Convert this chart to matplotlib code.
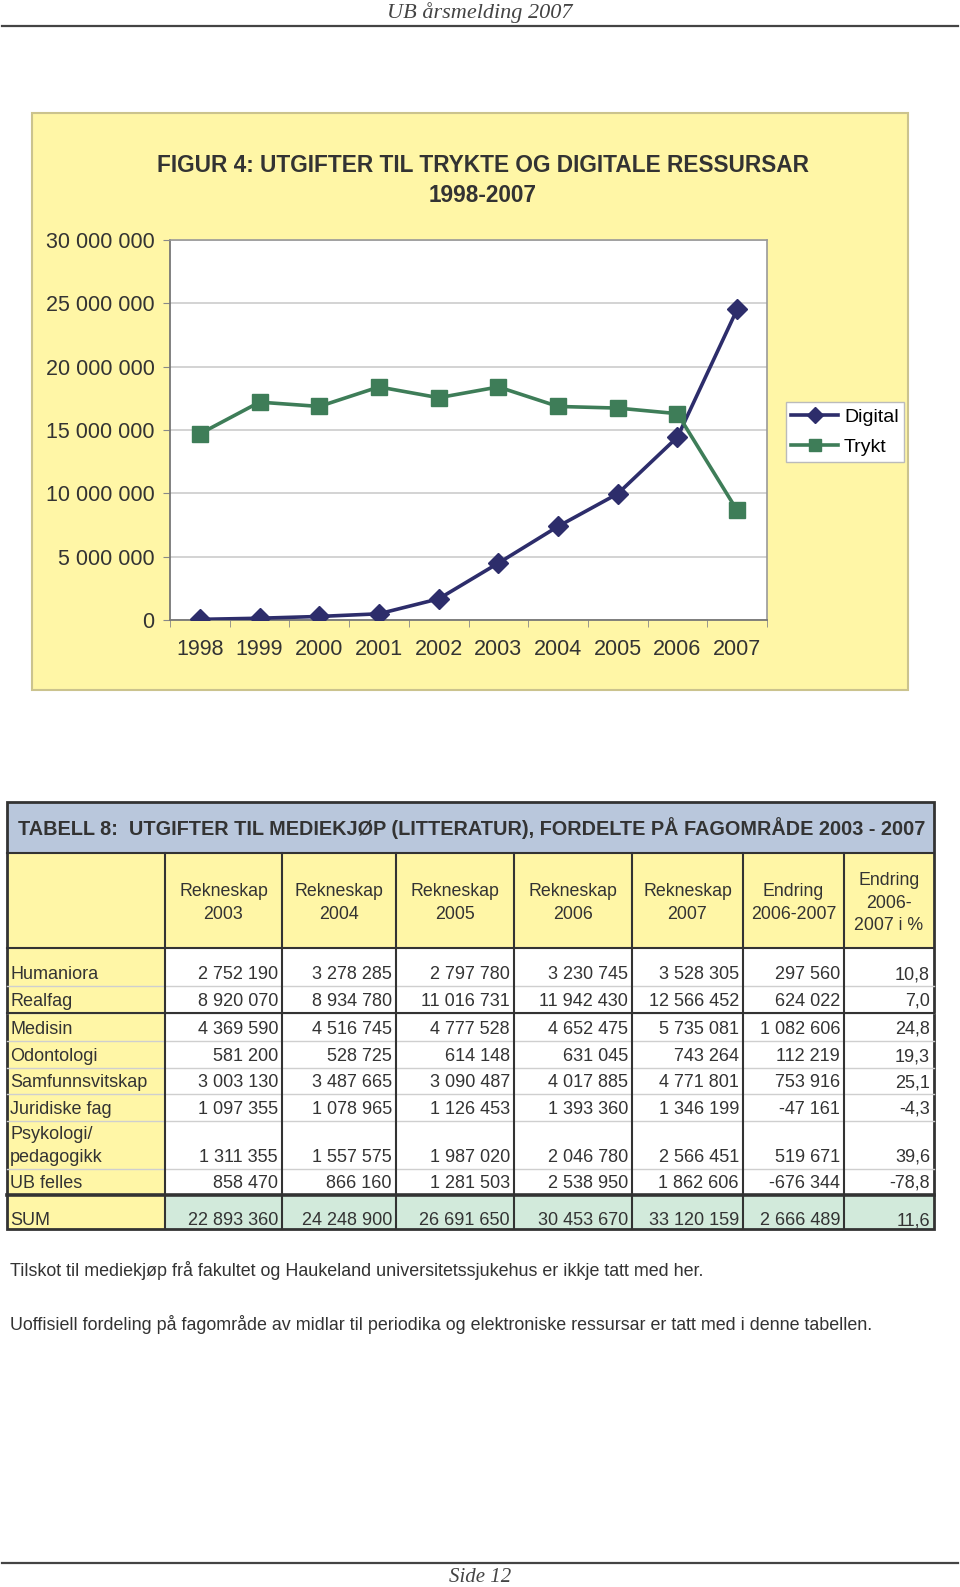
import numpy as np
import matplotlib
matplotlib.use("Agg")
import matplotlib.pyplot as plt
from matplotlib.patches import Rectangle
from matplotlib.ticker import FuncFormatter, FixedLocator

plt.rcParams['font.family'] = ['Liberation Sans', 'DejaVu Sans']

# --- chart data (NOK) ---
years = ["1998", "1999", "2000", "2001", "2002", "2003", "2004", "2005", "2006", "2007"]
digital = [50_000, 140_000, 280_000, 490_000, 1_670_000, 4_490_000, 7_390_000, 9_970_000, 14_440_000, 24_530_000]
trykt = [14_700_000, 17_200_000, 16_860_000, 18_400_000, 17_550_000, 18_400_000, 16_860_000, 16_730_000, 16_290_000, 8_650_000]

# --- table data ---
col_headers = ["Rekneskap\n2003", "Rekneskap\n2004", "Rekneskap\n2005", "Rekneskap\n2006",
               "Rekneskap\n2007", "Endring\n2006-2007", "Endring\n2006-\n2007 i %"]
row_labels = ["Humaniora", "Realfag", "Medisin", "Odontologi", "Samfunnsvitskap",
              "Juridiske fag", "Psykologi/\npedagogikk", "UB felles"]
r2003 = [2752190, 8920070, 4369590, 581200, 3003130, 1097355, 1311355, 858470]
r2004 = [3278285, 8934780, 4516745, 528725, 3487665, 1078965, 1557575, 866160]
r2005 = [2797780, 11016731, 4777528, 614148, 3090487, 1126453, 1987020, 1281503]
r2006 = [3230745, 11942430, 4652475, 631045, 4017885, 1393360, 2046780, 2538950]
r2007 = [3528305, 12566452, 5735081, 743264, 4771801, 1346199, 2566451, 1862606]
endring = [297560, 624022, 1082606, 112219, 753916, -47161, 519671, -676344]
endring_pct = [10.8, 7.0, 24.8, 19.3, 25.1, -4.3, 39.6, -78.8]
sum_row = [22893360, 24248900, 26691650, 30453670, 33120159, 2666489]
sum_pct = 11.6

notes = ["Tilskot til mediekjøp frå fakultet og Haukeland universitetssjukehus er ikkje tatt med her.",
         "Uoffisiell fordeling på fagområde av midlar til periodika og elektroniske ressursar er tatt med i denne tabellen."]

W, H = 960, 1587
YELLOW = "#fff6a6"
NAVY = "#2d2d6b"
GREEN = "#3e7d58"
DARK = "#333333"


def num(v):
    return f"{v:,}".replace(",", " ")


def pct(v):
    return f"{v:.1f}".replace(".", ",")


fig = plt.figure(figsize=(W / 100, H / 100), dpi=100)
fig.patch.set_facecolor("white")

# page layer in pixel coordinates
bg = fig.add_axes([0, 0, 1, 1], zorder=0)
bg.set_xlim(0, W)
bg.set_ylim(H, 0)
bg.axis("off")

# header / footer
bg.text(480, 13, "UB årsmelding 2007", family="Liberation Serif", style="italic",
        fontsize=16, color="#444", ha="center", va="center")
bg.plot([2, 958], [26, 26], color="#444", lw=1.6)
bg.plot([2, 958], [1563, 1563], color="#444", lw=1.6)
bg.text(480, 1578, "Side 12", family="Liberation Serif", style="italic",
        fontsize=15, color="#444", ha="center", va="center")

# yellow chart frame
bg.add_patch(Rectangle((32, 113), 876, 577, facecolor=YELLOW, edgecolor="#cbc38e", lw=1.5))
bg.text(483, 165, "FIGUR 4: UTGIFTER TIL TRYKTE OG DIGITALE RESSURSAR", fontsize=16.3,
        fontweight="bold", color=DARK, ha="center", va="center")
bg.text(483, 195, "1998-2007", fontsize=16.3, fontweight="bold", color=DARK, ha="center", va="center")

# --- line chart ---
ax = fig.add_axes([170 / W, 1 - 620 / H, 597 / W, 380 / H], zorder=1)
ax.set_facecolor("white")
x = np.arange(len(years))
ax.plot(x, digital, color=NAVY, lw=2.6, marker="D", ms=10, label="Digital", zorder=3)
ax.plot(x, trykt, color=GREEN, lw=2.6, marker="s", ms=11, label="Trykt", zorder=3)
ax.set_xlim(-0.5, len(years) - 0.5)
ax.set_ylim(0, 30_000_000)
ax.yaxis.set_major_locator(FixedLocator(np.arange(0, 30_000_001, 5_000_000)))
ax.yaxis.set_major_formatter(FuncFormatter(lambda v, p: num(int(v))))
ax.set_xticks(x)
ax.set_xticklabels(years)
ax.xaxis.set_minor_locator(FixedLocator(np.arange(-0.5, len(years), 1.0)))
ax.tick_params(axis="x", which="major", length=0, pad=14, labelsize=15.5, labelcolor=DARK)
ax.tick_params(axis="x", which="minor", length=5, color="#888", direction="out")
ax.tick_params(axis="y", length=5, color="#888", pad=6, labelsize=15.5, labelcolor=DARK)
ax.grid(axis="y", color="#cccccc", lw=1.2)
ax.set_axisbelow(True)
for side in ["left", "bottom"]:
    ax.spines[side].set_color("#777")
    ax.spines[side].set_linewidth(1.3)
for side in ["top", "right"]:
    ax.spines[side].set_color("#999")
    ax.spines[side].set_linewidth(1.2)

leg = ax.legend(loc="center", bbox_to_anchor=(845 / W, 1 - 432 / H), bbox_transform=fig.transFigure,
                fontsize=14, frameon=True, fancybox=False, edgecolor="#bbb", framealpha=1,
                handlelength=2.4, handletextpad=0.3, borderpad=0.3, labelspacing=0.65,
                markerscale=0.85, borderaxespad=0)
leg.get_frame().set_linewidth(1.0)

# --- table ---
col_x = [7, 165, 282, 396, 514, 632, 743, 844, 934]
title_top, title_bot = 802, 853
head_bot = 948
row_y = [948, 986, 1013, 1041, 1068, 1094, 1121, 1169, 1195]
sum_bot = 1229
left, right = col_x[0], col_x[-1]

bg.add_patch(Rectangle((left, title_top), right - left, title_bot - title_top, facecolor="#b9c7dc", lw=0))
bg.add_patch(Rectangle((left, title_bot), right - left, head_bot - title_bot, facecolor=YELLOW, lw=0))
bg.add_patch(Rectangle((left, head_bot), col_x[1] - left, sum_bot - head_bot, facecolor=YELLOW, lw=0))
bg.add_patch(Rectangle((col_x[1], row_y[-1]), right - col_x[1], sum_bot - row_y[-1], facecolor="#d2eadb", lw=0))

bg.text(18, 828, "TABELL 8:  UTGIFTER TIL MEDIEKJØP (LITTERATUR), FORDELTE PÅ FAGOMRÅDE 2003 - 2007",
        fontsize=14.3, fontweight="bold", color=DARK, ha="left", va="center")

for i, h in enumerate(col_headers):
    cx = (col_x[i + 1] + col_x[i + 2]) / 2
    bg.text(cx, 903, h, fontsize=12.8, color=DARK, ha="center", va="center", linespacing=1.4)

# light row separators
for yy in row_y[1:-1]:
    bg.plot([left, right], [yy, yy], color="#cfcfcf", lw=1.0)
# dark lines
for yy in [title_bot, head_bot, row_y[2]]:
    bg.plot([left, right], [yy, yy], color=DARK, lw=1.5)
bg.plot([left, right], [row_y[-1], row_y[-1]], color=DARK, lw=2.6)
for xx in col_x[1:-1]:
    bg.plot([xx, xx], [title_bot, sum_bot], color=DARK, lw=1.5)
bg.add_patch(Rectangle((left, title_top), right - left, sum_bot - title_top, facecolor="none",
                       edgecolor=DARK, lw=2.0))

columns = [r2003, r2004, r2005, r2006, r2007, endring]
for r, label in enumerate(row_labels):
    base = row_y[r + 1] - 3
    lines = label.split("\n")
    for k, line in enumerate(reversed(lines)):
        bg.text(10, base - k * 23, line, fontsize=13, color=DARK, ha="left", va="bottom")
    for c, col in enumerate(columns):
        bg.text(col_x[c + 2] - 4, base, num(col[r]), fontsize=13, color=DARK, ha="right", va="bottom")
    bg.text(col_x[8] - 4, base, pct(endring_pct[r]), fontsize=13, color=DARK, ha="right", va="bottom")

base = sum_bot
bg.text(10, base, "SUM", fontsize=13, color=DARK, ha="left", va="bottom")
for c, v in enumerate(sum_row):
    bg.text(col_x[c + 2] - 4, base, num(v), fontsize=13, color=DARK, ha="right", va="bottom")
bg.text(col_x[8] - 4, base, pct(sum_pct), fontsize=13, color=DARK, ha="right", va="bottom")

# notes
for k, note in enumerate(notes):
    bg.text(10, 1270 + k * 55, note, fontsize=12.9, color=DARK, ha="left", va="center")

fig.savefig("out.png", dpi=100)
